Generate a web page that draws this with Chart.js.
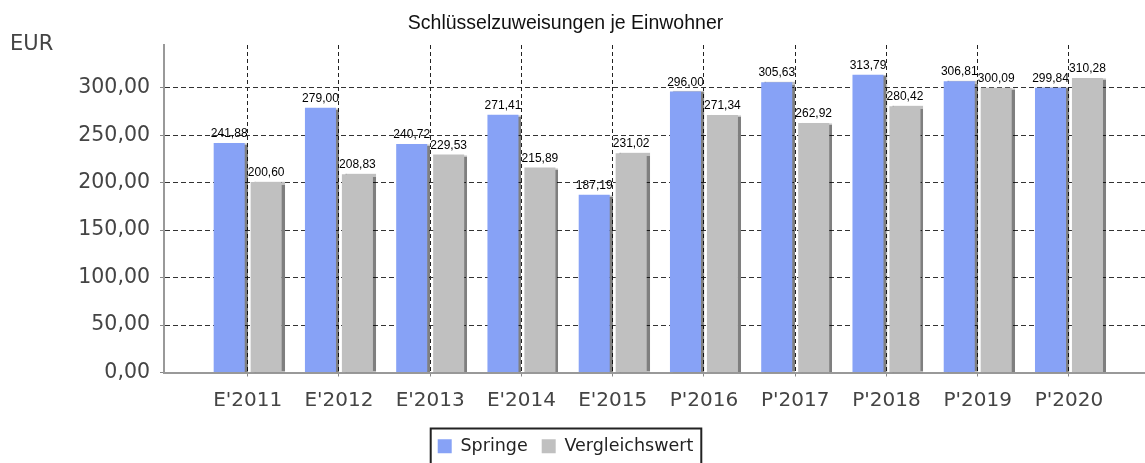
<!DOCTYPE html>
<html>
<head>
<meta charset="utf-8">
<script src="https://cdn.jsdelivr.net/npm/chart.js@4.4.1/dist/chart.umd.min.js"></script>
<style>
  html, body { margin: 0; padding: 0; background: #fff; }
  #wrap { width: 1145px; height: 463px; position: relative; }
</style>
</head>
<body>
<div id="wrap"><canvas id="chart"></canvas></div>
<script>
const categories = ["E'2011", "E'2012", "E'2013", "E'2014", "E'2015", "P'2016", "P'2017", "P'2018", "P'2019", "P'2020"];
const springe = [241.88, 279.00, 240.72, 271.41, 187.19, 296.00, 305.63, 313.79, 306.81, 299.84];
const vergleichswert = [200.60, 208.83, 229.53, 215.89, 231.02, 271.34, 262.92, 280.42, 300.09, 310.28];
const seriesNames = ["Springe", "Vergleichswert"];
const yTickStep = 50;
const yMax = 345;
const unitLabel = "EUR";
const chartTitle = "Schlüsselzuweisungen je Einwohner";

const BLUE = "#87a2f6";
const GREY = "#c0c0c0";

function fmt(v) {
  return v.toFixed(2).replace(".", ",");
}

function toPoints(values) {
  return values.map((v, i) => ({ x: i, y: v }));
}

// title and legend sit a little left of the canvas centre in the original
const nudge = {
  id: "nudge",
  afterLayout(chart) {
    const dx = -7;
    [chart.titleBlock, chart.legend].forEach((box) => {
      if (!box) return;
      box.left += dx;
      box.right += dx;
    });
    (chart.legend.legendHitBoxes || []).forEach((hb) => {
      hb.left += dx;
    });
  },
};

// soft shadow on the right side of every bar
const barShadow = {
  id: "barShadow",
  beforeDatasetsDraw(chart) {
    const ctx = chart.ctx;
    ctx.save();
    ctx.shadowColor = "rgba(0,0,0,0.5)";
    ctx.shadowOffsetX = 3;
    ctx.shadowOffsetY = 0;
    ctx.shadowBlur = 1;
  },
  afterDatasetsDraw(chart) {
    chart.ctx.restore();
  },
};

const valueLabels = {
  id: "valueLabels",
  afterDatasetsDraw(chart) {
    const ctx = chart.ctx;
    ctx.save();
    ctx.font = "12px 'Liberation Sans', Arial, sans-serif";
    ctx.fillStyle = "#000";
    ctx.textAlign = "center";
    ctx.textBaseline = "alphabetic";
    chart.data.datasets.forEach((ds, di) => {
      const meta = chart.getDatasetMeta(di);
      meta.data.forEach((bar, i) => {
        ctx.fillText(fmt(ds.data[i].y), bar.x, bar.y - 6);
      });
    });
    ctx.restore();
  },
};

const extras = {
  id: "extras",
  afterDraw(chart) {
    const ctx = chart.ctx;
    ctx.save();
    ctx.font = "21px 'DejaVu Sans', sans-serif";
    ctx.fillStyle = "#444";
    ctx.textBaseline = "middle";
    ctx.textAlign = "left";
    ctx.fillText(unitLabel, 10, 45);

    // frame round the legend
    const boxes = chart.legend.legendHitBoxes;
    if (boxes && boxes.length) {
      const first = boxes[0];
      const last = boxes[boxes.length - 1];
      const left = first.left - 7;
      const right = last.left + last.width + 8;
      const top = first.top - 9;
      ctx.strokeStyle = "#222";
      ctx.lineWidth = 2;
      ctx.strokeRect(left, top, right - left, 60);
    }
    ctx.restore();
  },
};

new Chart(document.getElementById("chart"), {
  type: "bar",
  data: {
    datasets: [
      {
        label: seriesNames[0],
        data: toPoints(springe),
        backgroundColor: BLUE,
        borderColor: BLUE,
        borderWidth: 0,
      },
      {
        label: seriesNames[1],
        data: toPoints(vergleichswert),
        backgroundColor: GREY,
        borderColor: GREY,
        borderWidth: 0,
      },
    ],
  },
  options: {
    responsive: true,
    maintainAspectRatio: false,
    animation: false,
    categoryPercentage: 0.81,
    barPercentage: 0.84,
    layout: { padding: { top: 0, right: 0, left: 0, bottom: -2 } },
    plugins: {
      title: {
        display: true,
        text: chartTitle,
        color: "#111",
        font: { family: "'Liberation Sans', Arial, sans-serif", size: 19.5, weight: "normal" },
        padding: { top: 12, bottom: 9.6 },
      },
      legend: {
        position: "bottom",
        labels: {
          font: { family: "'DejaVu Sans', sans-serif", size: 17.5 },
          color: "#222",
          boxWidth: 14,
          boxHeight: 14,
          padding: 14,
        },
      },
      tooltip: { enabled: false },
    },
    scales: {
      x: {
        type: "linear",
        offset: false,
        min: -0.917,
        max: 9.833,
        grid: {
          offset: false,
          color: "#222",
          lineWidth: 1,
          tickLength: 4,
          tickColor: "#888",
        },
        border: { display: true, color: "#999", width: 2, dash: [4, 3] },
        ticks: {
          stepSize: 1,
          includeBounds: false,
          autoSkip: false,
          maxRotation: 0,
          padding: 12,
          color: "#444",
          font: { family: "'DejaVu Sans', sans-serif", size: 20 },
          callback: (v) => categories[v] ?? "",
        },
        afterFit(scale) {
          scale.height = 51;
        },
      },
      y: {
        min: 0,
        max: yMax,
        grid: {
          color: "#333",
          lineWidth: 1,
          tickLength: 4,
          tickColor: "#888",
        },
        border: { display: true, color: "#999", width: 2, dash: [5, 3] },
        ticks: {
          stepSize: yTickStep,
          includeBounds: false,
          padding: 10,
          color: "#444",
          font: { family: "'DejaVu Sans', sans-serif", size: 20.5 },
          callback: (v) => fmt(v),
        },
        afterFit(scale) {
          scale.width = 164;
        },
      },
    },
  },
  plugins: [nudge, barShadow, valueLabels, extras],
});
</script>
</body>
</html>
